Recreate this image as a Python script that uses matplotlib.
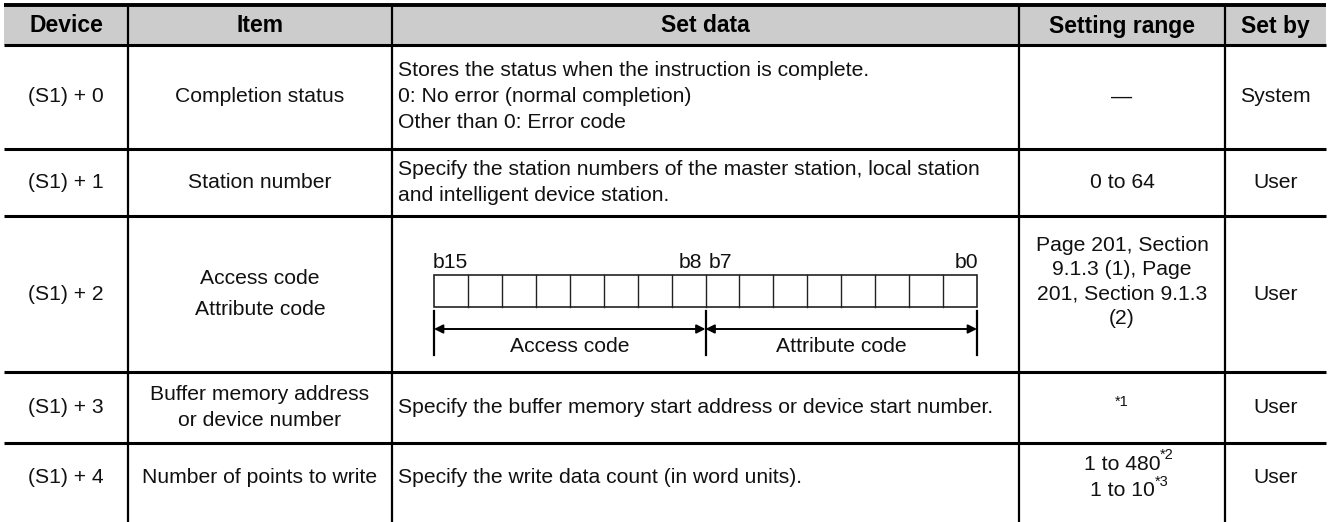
import matplotlib.pyplot as plt
from matplotlib.patches import Rectangle

plt.rcParams['font.family'] = ['Liberation Sans', 'DejaVu Sans']

# table content
headers = ['Device', 'Item', 'Set data', 'Setting range', 'Set by']
devices = ['(S1) + 0', '(S1) + 1', '(S1) + 2', '(S1) + 3', '(S1) + 4']
items = ['Completion status', 'Station number', 'Access code\nAttribute code',
         'Buffer memory address\nor device number', 'Number of points to write']
set_data = [
    ['Stores the status when the instruction is complete.',
     '0: No error (normal completion)',
     'Other than 0: Error code'],
    ['Specify the station numbers of the master station, local station',
     'and intelligent device station.'],
    [],  # bit layout drawn below
    ['Specify the buffer memory start address or device start number.'],
    ['Specify the write data count (in word units).'],
]
setting_range = [
    [('\u2014', '')],
    [('0 to 64', '')],
    [('Page 201, Section', ''), ('9.1.3 (1), Page', ''),
     ('201, Section 9.1.3', ''), ('(2)', '')],
    [('', '*1')],
    [('1 to 480', '*2'), ('1 to 10', '*3')],
]
set_by = ['System', 'User', 'User', 'User', 'User']

bit_labels = ['b15', 'b8', 'b7', 'b0']
n_bits = 16
field_names = ['Access code', 'Attribute code']

# layout (pixels)
W, H = 1330, 522
col_edges = [4, 128, 392, 1019, 1225, 1326]
row_edges = [45, 149, 216, 372, 443, 512]
top = 5
fs = 15.2
fs_head = 16.5
fs_sup = 10.5
ink = '#111111'

fig = plt.figure(figsize=(W / 100, H / 100), dpi=100)
ax = fig.add_axes([0, 0, 1, 1])
ax.set_xlim(0, W)
ax.set_ylim(H, 0)
ax.axis('off')

# header band
ax.add_patch(Rectangle((col_edges[0], top), col_edges[-1] - col_edges[0], row_edges[0] - top,
                       facecolor='#cccccc', edgecolor='none'))
for i, h in enumerate(headers):
    cx = (col_edges[i] + col_edges[i + 1]) / 2
    ax.text(cx, (top + row_edges[0]) / 2 + 1, h, ha='center', va='center',
            fontsize=fs_head, fontweight='bold', color='black')

# grid lines
ax.plot([col_edges[0], col_edges[-1]], [top, top], color='black', lw=2.8, solid_capstyle='butt')
for y in row_edges[:-1]:
    ax.plot([col_edges[0], col_edges[-1]], [y, y], color='black', lw=2.2, solid_capstyle='butt')
for x in col_edges[1:-1]:
    ax.plot([x, x], [top, H], color='black', lw=1.6, solid_capstyle='butt')

line_gap = 26
item_spacing = [1.2, 1.2, 1.75, 1.45, 1.2]
sr_gap = [24.5, 24.5, 24.5, 24.5, 27]
sr_shift = [0, 0, -12, -5, 0]

for r in range(len(devices)):
    y0, y1 = row_edges[r], row_edges[r + 1]
    cy = (y0 + y1) / 2
    ax.text((col_edges[0] + col_edges[1]) / 2, cy, devices[r], ha='center', va='center',
            fontsize=fs, color=ink)
    ax.text((col_edges[1] + col_edges[2]) / 2, cy, items[r], ha='center', va='center',
            fontsize=fs, color=ink, linespacing=item_spacing[r])
    lines = set_data[r]
    for k, s in enumerate(lines):
        yy = cy + (k - (len(lines) - 1) / 2) * line_gap
        ax.text(col_edges[2] + 6, yy, s, ha='left', va='center', fontsize=fs, color=ink)
    sr = setting_range[r]
    cx = (col_edges[3] + col_edges[4]) / 2
    for k, (s, sup) in enumerate(sr):
        yy = cy + sr_shift[r] + (k - (len(sr) - 1) / 2) * sr_gap[r]
        if s:
            t = ax.text(cx, yy, s, ha='center', va='center', fontsize=fs, color=ink)
            if sup:
                ax.annotate(sup, xy=(1, 0.95), xycoords=t, ha='left', va='center',
                            fontsize=fs_sup, color=ink)
        else:
            ax.text(cx, yy, sup, ha='center', va='center', fontsize=fs_sup, color=ink)
    ax.text((col_edges[4] + col_edges[5]) / 2, cy, set_by[r], ha='center', va='center',
            fontsize=fs, color=ink)

# bit layout diagram in the (S1) + 2 row
bx0, bx1 = 434, 977
cell = (bx1 - bx0) / n_bits
by0, by1 = 275, 307
bmid = bx0 + cell * n_bits / 2
ax.add_patch(Rectangle((bx0, by0), bx1 - bx0, by1 - by0, facecolor='none',
                       edgecolor='#222222', lw=1.2))
for i in range(1, n_bits):
    ax.plot([bx0 + i * cell] * 2, [by0, by1], color='#222222', lw=1.0)
ly = by0 - 12
ax.text(bx0 - 1, ly, bit_labels[0], ha='left', va='center', fontsize=fs, color=ink)
ax.text(bmid - 3, ly, bit_labels[1], ha='right', va='center', fontsize=fs, color=ink)
ax.text(bmid + 3, ly, bit_labels[2], ha='left', va='center', fontsize=fs, color=ink)
ax.text(bx1 + 1, ly, bit_labels[3], ha='right', va='center', fontsize=fs, color=ink)

ty0, ty1 = by1 + 4, by1 + 48
for x in (bx0, bmid, bx1):
    ax.plot([x, x], [ty0, ty1], color='black', lw=1.6)
ay = by1 + 22
for (xa, xb), name in zip([(bx0, bmid), (bmid, bx1)], field_names):
    ax.annotate('', xy=(xa, ay), xytext=(xb, ay),
                arrowprops=dict(arrowstyle='<|-|>', color='black', lw=1.4,
                                mutation_scale=13, shrinkA=0, shrinkB=0))
    ax.text((xa + xb) / 2, ay + 18, name, ha='center', va='center', fontsize=fs, color=ink)

fig.savefig('out.png', dpi=100)
